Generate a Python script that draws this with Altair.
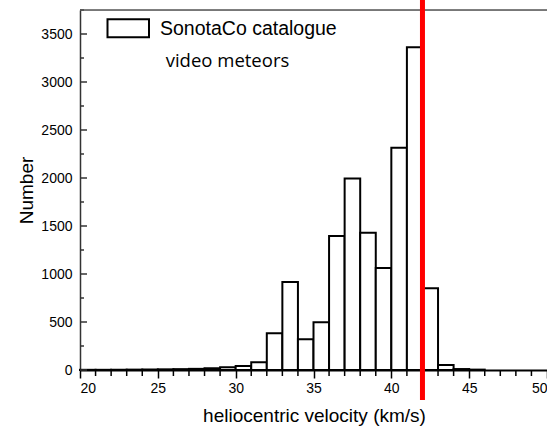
import altair as alt
import pandas as pd

bin_starts = list(range(20, 46))
counts = [2, 2, 3, 4, 5, 7, 9, 12, 18, 28, 42, 80, 382, 917, 320, 497,
          1396, 1995, 1430, 1062, 2316, 3361, 851, 52, 10, 4]
red_line_x = [42.0]
x_major = [20, 25, 30, 35, 40, 45, 50]
x_minor = [v for v in range(20, 51) if v % 5 != 0]
y_major = [0, 500, 1000, 1500, 2000, 2500, 3000, 3500]
y_minor = [250, 750, 1250, 1750, 2250, 2750, 3250, 3750]

FONT = "Liberation Sans"

bars_df = pd.DataFrame({"start": bin_starts, "end": [b + 1 for b in bin_starts], "count": counts})
xs = alt.Scale(domain=[20, 50], nice=False, zero=False)
ys = alt.Scale(domain=[0, 3750], nice=False)

bars = alt.Chart(bars_df).mark_bar(fill="white", stroke="black", strokeWidth=2).encode(
    x=alt.X("start:Q", scale=xs, axis=alt.Axis(
        values=x_major, title="heliocentric velocity (km/s)", format="d",
        tickSize=8, tickColor="black", tickWidth=1.5, labelPadding=3,
        domainColor="black", domainWidth=2, grid=False,
        labelFont=FONT, labelFontSize=14, labelColor="black",
        titleFont=FONT, titleFontSize=19, titleFontWeight="normal", titleColor="black",
        titleBaseline="alphabetic", titleX=234, titleY=51)),
    x2="end:Q",
    y=alt.Y("count:Q", scale=ys, axis=alt.Axis(
        values=y_major, title="Number", format="d", ticks=False, tickSize=0, labelPadding=8,
        domainColor="#333", domainWidth=1.5, grid=False,
        labelFont=FONT, labelFontSize=14, labelColor="black",
        titleFont=FONT, titleFontSize=19, titleFontWeight="normal", titleColor="black",
        titleBaseline="alphabetic", titleAngle=-90, titleAlign="center", titleX=-48, titleY=180)),
    y2=alt.datum(0),
)

ymaj = alt.Chart(pd.DataFrame({"v": y_major})).mark_rule(color="#333", strokeWidth=1.5).encode(
    y=alt.Y("v:Q", scale=ys), x=alt.value(0), x2=alt.value(7))
ymin = alt.Chart(pd.DataFrame({"v": y_minor})).mark_rule(color="#333", strokeWidth=1.5).encode(
    y=alt.Y("v:Q", scale=ys), x=alt.value(0), x2=alt.value(4))
xmin = alt.Chart(pd.DataFrame({"v": x_minor})).mark_rule(color="black", strokeWidth=1.5).encode(
    x=alt.X("v:Q", scale=xs), y=alt.value(360), y2=alt.value(366))

top_line = alt.Chart(pd.DataFrame({"a": [0]})).mark_rule(color="#555", strokeWidth=1.5).encode(
    x=alt.value(0), x2=alt.value(467), y=alt.value(0))

red = alt.Chart(pd.DataFrame({"v": red_line_x})).mark_rule(color="#ff0000", strokeWidth=5).encode(
    x=alt.X("v:Q", scale=xs), y=alt.value(-12), y2=alt.value(390))

legend_box = alt.Chart(pd.DataFrame({"a": [0]})).mark_rect(fill="white", stroke="black", strokeWidth=2).encode(
    x=alt.value(27.5), x2=alt.value(69), y=alt.value(9.3), y2=alt.value(27.3))
legend_t1 = alt.Chart(pd.DataFrame({"t": ["SonotaCo catalogue"]})).mark_text(
    font=FONT, fontSize=19.5, align="left", baseline="alphabetic", color="black").encode(
    text="t:N", x=alt.value(80), y=alt.value(25))
legend_t2 = alt.Chart(pd.DataFrame({"t": ["video meteors"]})).mark_text(
    font="Open Sans", fontSize=18.5, align="left", baseline="alphabetic", color="black").encode(
    text="t:N", x=alt.value(85.7), y=alt.value(56.7))

chart = alt.layer(bars, xmin, ymaj, ymin, top_line, red, legend_box, legend_t1, legend_t2).properties(
    width=467, height=360,
    autosize="none",
    padding={"left": 80, "top": 10, "right": 0, "bottom": 56},
).configure_view(stroke=None).configure(background="white")

chart.save("out.html", embed_options={"renderer": "svg", "actions": False})
